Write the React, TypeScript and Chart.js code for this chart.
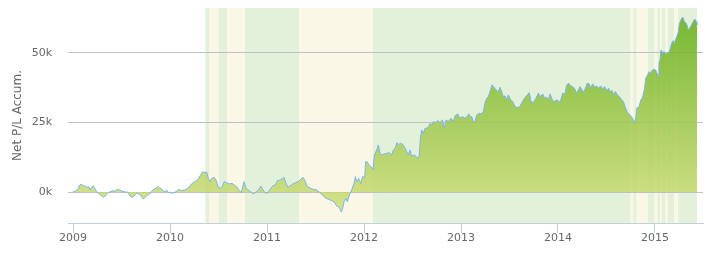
import React, { useEffect, useRef } from "react";
import { Chart, registerables } from "chart.js";

Chart.register(...registerables);

// Decimal-year dates of the equity curve samples
const years = [
  2009.000, 2009.010, 2009.052, 2009.069, 2009.086, 2009.103, 2009.120, 2009.137, 2009.162, 2009.175,
  2009.196, 2009.210, 2009.223, 2009.244, 2009.265, 2009.292, 2009.313, 2009.333, 2009.354, 2009.378,
  2009.412, 2009.430, 2009.457, 2009.481, 2009.505, 2009.539, 2009.567, 2009.584, 2009.601, 2009.629,
  2009.653, 2009.670, 2009.698, 2009.722, 2009.746, 2009.766, 2009.790, 2009.814, 2009.835, 2009.859,
  2009.876, 2009.894, 2009.918, 2009.945, 2009.966, 2009.979, 2009.997, 2010.014, 2010.041, 2010.065,
  2010.089, 2010.117, 2010.151, 2010.179, 2010.203, 2010.227, 2010.254, 2010.289,
  2010.309, 2010.337, 2010.361, 2010.378, 2010.395, 2010.412, 2010.430, 2010.454, 2010.474, 2010.498,
  2010.522, 2010.543, 2010.557, 2010.584, 2010.612, 2010.639, 2010.667, 2010.687, 2010.715, 2010.735,
  2010.763, 2010.784, 2010.808, 2010.832, 2010.859, 2010.887, 2010.914, 2010.935, 2010.955, 2010.979,
  2011.003, 2011.031, 2011.058, 2011.086, 2011.107, 2011.134, 2011.162, 2011.175, 2011.196, 2011.216,
  2011.237, 2011.265, 2011.292, 2011.320, 2011.340, 2011.357, 2011.375, 2011.395, 2011.416, 2011.443,
  2011.478, 2011.512, 2011.546, 2011.581, 2011.608, 2011.636, 2011.667, 2011.691, 2011.718, 2011.746,
  2011.766, 2011.780, 2011.794, 2011.814, 2011.828, 2011.849, 2011.873, 2011.897, 2011.911, 2011.924,
  2011.945, 2011.966, 2011.986, 2012.007, 2012.017,
  2012.034, 2012.052, 2012.072, 2012.093, 2012.107, 2012.131, 2012.148, 2012.165, 2012.182, 2012.210,
  2012.234, 2012.258, 2012.285, 2012.302, 2012.320, 2012.340, 2012.354, 2012.375, 2012.395, 2012.416,
  2012.440, 2012.457, 2012.474, 2012.491, 2012.519, 2012.543, 2012.560, 2012.570, 2012.581, 2012.594,
  2012.612, 2012.629, 2012.649, 2012.663, 2012.684, 2012.698, 2012.715, 2012.739, 2012.759, 2012.784,
  2012.808, 2012.828, 2012.845, 2012.869, 2012.897, 2012.921, 2012.938, 2012.966, 2012.990, 2013.014,
  2013.041, 2013.062, 2013.082,
  2013.093, 2013.110, 2013.127, 2013.144, 2013.162, 2013.189, 2013.213, 2013.230, 2013.247, 2013.265,
  2013.282, 2013.299, 2013.320, 2013.340, 2013.361, 2013.385, 2013.402, 2013.419, 2013.436, 2013.454,
  2013.471, 2013.488, 2013.512, 2013.533, 2013.557, 2013.574, 2013.601, 2013.625, 2013.643, 2013.660,
  2013.684, 2013.704, 2013.722, 2013.746, 2013.773, 2013.797, 2013.821, 2013.842, 2013.863, 2013.883,
  2013.904, 2013.918, 2013.935, 2013.959, 2013.979, 2014.003, 2014.021, 2014.048, 2014.072, 2014.089,
  2014.110, 2014.131, 2014.151, 2014.175, 2014.192, 2014.210, 2014.227, 2014.244, 2014.261, 2014.282,
  2014.302, 2014.323, 2014.337, 2014.357, 2014.378, 2014.399, 2014.419, 2014.440, 2014.460, 2014.481,
  2014.502, 2014.522, 2014.536, 2014.557, 2014.577, 2014.591, 2014.612, 2014.632, 2014.653, 2014.674,
  2014.694, 2014.715, 2014.735, 2014.756, 2014.777, 2014.790, 2014.804, 2014.811, 2014.835, 2014.856,
  2014.869, 2014.890, 2014.904, 2014.924, 2014.938, 2014.959, 2014.973, 2014.993, 2015.007, 2015.017,
  2015.028, 2015.034, 2015.041, 2015.052, 2015.062, 2015.076, 2015.096, 2015.110, 2015.124, 2015.138,
  2015.155, 2015.172, 2015.189, 2015.199, 2015.213, 2015.227, 2015.241, 2015.251, 2015.261, 2015.275,
  2015.289, 2015.302, 2015.316, 2015.330, 2015.344, 2015.357, 2015.371, 2015.385, 2015.399, 2015.412,
  2015.426, 2015.433,
];

// Accumulated net P/L at each date
const pnl = [
  0, 120, 960, 2520, 2880, 2160, 2400, 1680, 1920, 720,
  1920, 2160, 1320, 0, -480, -1320, -1920, -1440, -480, 0,
  480, 240, 960, 720, 240, 0, -120, -1200, -1920, -1440,
  -480, -480, -1200, -2520, -1920, -1200, -720, 480, 960, 1440,
  1920, 1440, 960, 0, 720, -240, 0, -480, -240, 240,
  960, 480, 720, 1200, 2160, 3120, 3600, 4600,
  5800, 7320, 6960, 7200, 4920, 3720, 4920, 5280, 4320, 1680,
  1320, 2160, 3720, 3360, 2880, 3120, 2400, 1920, 480, -240,
  3720, 1320, 720, 120, -720, 0, 720, 2160, 960, -240,
  -480, 960, 2160, 2520, 4080, 4320, 4920, 5280, 3120, 1680,
  2160, 2880, 3360, 3720, 4320, 4920, 5160, 3720, 1920, 1440,
  960, 720, -240, -1440, -2280, -2640, -3120, -3480, -5040, -5520,
  -7200, -5880, -3480, -2280, -3480, -1080, 720, 3120, 5520, 3720,
  4920, 3120, 5520, 5280, 10920,
  10800, 9720, 9120, 7920, 13320, 15120, 16920, 13920, 13320, 13680,
  13920, 14160, 13320, 15120, 15720, 17760, 16920, 17520, 17280, 16320,
  14520, 13320, 15120, 12960, 13320, 12480, 12120, 13320, 19320, 22320,
  21120, 22920, 22920, 23520, 24720, 24120, 25320, 24960, 25680, 24960,
  25920, 22920, 25920, 25320, 26520, 25320, 27360, 28080, 26520, 27120,
  26520, 27120, 28080,
  26880, 27120, 25320, 25320, 27720, 28320, 28080, 28920, 31920, 33720,
  34320, 36120, 38520, 37680, 36720, 36120, 37680, 36120, 34320, 34560,
  33120, 34920, 33120, 32520, 30720, 30480, 30480, 31920, 33120, 34080,
  34920, 35760, 32520, 32160, 33720, 35520, 34320, 35280, 33720, 34080,
  33360, 35280, 33720, 32160, 33120, 32880, 32160, 35520, 35280, 38520,
  39120, 38160, 37920, 36960, 35520, 36720, 37920, 36960, 35760, 37320,
  39120, 38880, 37320, 38880, 37680, 38160, 37320, 38160, 36960, 37920,
  36480, 37320, 36120, 36480, 34920, 36120, 34920, 34320, 33360, 32520,
  30480, 28560, 28080, 27120, 25920, 24720, 27100, 30100, 30700, 33330,
  33690, 36690, 40890, 42090, 43290, 42690, 43890, 44130, 43890, 42930,
  42450, 41490, 46290, 47490, 51090, 50130, 50490, 49650, 50130, 49890,
  51330, 53490, 54450, 53490, 54930, 56130, 57690, 60690, 61290, 62490,
  62850, 61290, 60930, 60090, 58290, 58890, 59730, 60690, 61650, 62130,
  61290, 60090,
];

const xTicks = [2009, 2010, 2011, 2012, 2013, 2014, 2015];
const yTicks = [0, 25000, 50000];

// Alternating plot bands (green first) between these edges
const bandEdges = [
  2010.364, 2010.402, 2010.502, 2010.588, 2010.773, 2011.330, 2012.090, 2014.742, 2014.776, 2014.811,
  2014.925, 2014.993, 2015.024, 2015.052, 2015.069, 2015.110, 2015.131, 2015.199, 2015.240, 2015.433,
];
const bandColors = ["#e3f0da", "#faf7e6"];

const FONT = "'DejaVu Sans', sans-serif";

const bandsPlugin = {
  id: "bands",
  beforeDraw(chart: any) {
    const { ctx, chartArea, scales } = chart;
    const xs = scales.x;
    ctx.save();
    for (let i = 0; i < bandEdges.length - 1; i++) {
      const x0 = xs.getPixelForValue(bandEdges[i]);
      const x1 = xs.getPixelForValue(bandEdges[i + 1]);
      ctx.fillStyle = bandColors[i % 2];
      ctx.fillRect(x0, chartArea.top, x1 - x0, chartArea.bottom - chartArea.top);
    }
    ctx.restore();
  },
};

export default function App() {
  const ref = useRef<HTMLCanvasElement | null>(null);
  useEffect(() => {
    if (!ref.current) return;
    const maxV = Math.max(...pnl);
    const minV = Math.min(...pnl);
    const chart = new Chart(ref.current, {
      type: "line",
      data: {
        datasets: [
          {
            data: years.map((x, i) => ({ x, y: pnl[i] })),
            borderColor: "#7cb5ec",
            borderWidth: 1,
            pointRadius: 0,
            tension: 0,
            fill: "origin",
            backgroundColor: (c: any) => {
              const { chart } = c;
              const { chartArea, scales } = chart;
              if (!chartArea || !scales.y) return "rgba(160,200,80,0.8)";
              const t = scales.y.getPixelForValue(maxV);
              const b = scales.y.getPixelForValue(minV);
              const g = chart.ctx.createLinearGradient(0, t, 0, b);
              g.addColorStop(0, "rgba(101,174,22,0.85)");
              g.addColorStop(1, "rgba(208,222,122,0.85)");
              return g;
            },
          },
        ],
      },
      options: {
        animation: false,
        responsive: true,
        maintainAspectRatio: false,
        events: [],
        layout: { padding: { top: 8, right: 7, left: 0, bottom: 0 } },
        plugins: { legend: { display: false }, tooltip: { enabled: false } },
        scales: {
          x: {
            type: "linear",
            min: 2008.948,
            max: 2015.495,
            afterBuildTicks: (s: any) => {
              s.ticks = xTicks.map((v) => ({ value: v }));
            },
            afterFit: (s: any) => {
              s.height = 33;
              s.paddingLeft = 0;
              s.paddingRight = 0;
            },
            grid: { drawOnChartArea: false, drawTicks: true, tickLength: 10, color: "#c0d0e0" },
            border: { color: "#c0d0e0", width: 1 },
            ticks: {
              padding: -1,
              color: "#666",
              maxRotation: 0,
              autoSkip: false,
              font: { family: FONT, size: 11 },
              callback: (v: any) => String(v),
            },
          },
          y: {
            min: -11150,
            max: 66185,
            afterBuildTicks: (s: any) => {
              s.ticks = yTicks.map((v) => ({ value: v }));
            },
            afterFit: (s: any) => {
              s.width = 68;
              s.paddingTop = 0;
              s.paddingBottom = 0;
            },
            grid: { color: "#c0c0c0", drawTicks: false },
            border: { display: false },
            ticks: {
              padding: 16,
              color: "#666",
              font: { family: FONT, size: 11 },
              callback: (v: any) => Math.round(v / 1000) + "k",
            },
            title: {
              display: true,
              text: "Net P/L Accum.",
              color: "#666",
              font: { family: FONT, size: 12 },
              padding: { top: 11, bottom: 0 },
            },
          },
        },
      },
      plugins: [bandsPlugin],
    });
    return () => chart.destroy();
  }, []);
  return (
    <div style={{ position: "fixed", left: 0, top: 0, width: 710, height: 256, background: "#fff" }}>
      <canvas ref={ref} />
    </div>
  );
}
